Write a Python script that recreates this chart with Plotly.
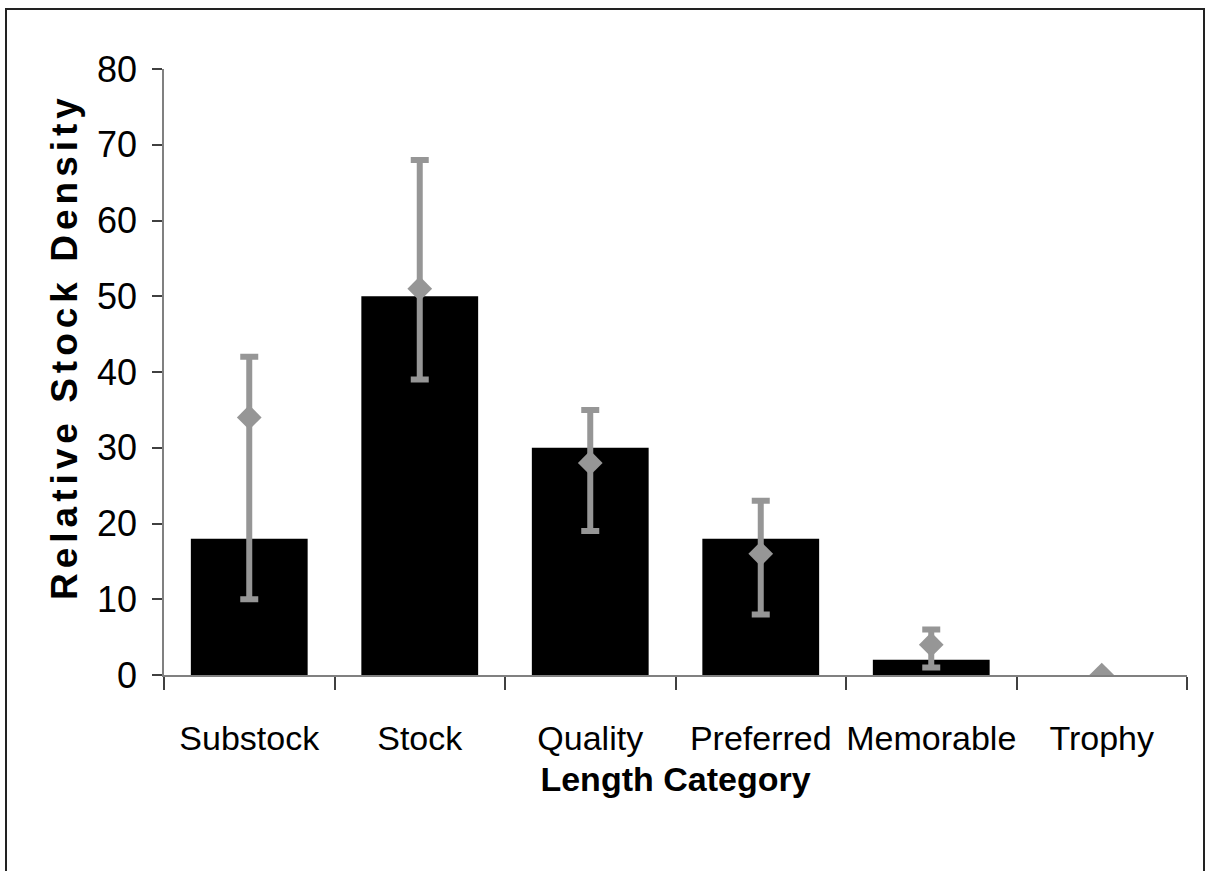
import plotly.graph_objects as go

categories = ["Substock", "Stock", "Quality", "Preferred", "Memorable", "Trophy"]
bar_values = [18, 50, 30, 18, 2, 0]
mean_values = [34, 51, 28, 16, 4, 0]
upper_values = [42, 68, 35, 23, 6, 0]
lower_values = [10, 39, 19, 8, 1, 0]
y_ticks = [0, 10, 20, 30, 40, 50, 60, 70, 80]

err_plus = [u - m for u, m in zip(upper_values, mean_values)]
err_minus = [m - l for m, l in zip(mean_values, lower_values)]

GRAY = "rgb(150,150,150)"
FONT = "Liberation Sans, Arial, sans-serif"

fig = go.Figure()
fig.add_trace(go.Bar(
    x=categories, y=bar_values,
    marker=dict(color="black", line=dict(width=0)),
    showlegend=False,
))
fig.add_trace(go.Scatter(
    x=categories, y=mean_values, mode="markers",
    marker=dict(symbol="diamond", size=19, color=GRAY),
    error_y=dict(type="data", symmetric=False, array=err_plus, arrayminus=err_minus,
                 color=GRAY, thickness=6, width=9),
    showlegend=False,
))

W0, W1 = 164, 1187
Y80, Y0 = 69, 675

def px_x(p):
    return (p - W0) / (W1 - W0)

def px_y(p):
    return (Y0 - p) / (Y0 - Y80)

fig.add_shape(type="rect", xref="paper", yref="paper",
              x0=px_x(6), x1=px_x(1204), y0=px_y(885), y1=px_y(9),
              line=dict(color="#222222", width=2), fillcolor="rgba(0,0,0,0)", layer="below")

fig.add_annotation(
    xref="paper", yref="paper", x=px_x(64), y=px_y(347),
    text="<b><span style='letter-spacing:5px'>Relative Stock Density</span></b>",
    textangle=-90, showarrow=False, xanchor="center", yanchor="middle",
    font=dict(family=FONT, size=37, color="black"),
)

fig.update_layout(
    width=1207, height=871,
    margin=dict(l=W0, r=1207 - W1, t=Y80, b=871 - Y0, autoexpand=False),
    paper_bgcolor="white", plot_bgcolor="white",
    bargap=0.315,
    font=dict(family=FONT, color="black", size=34),
    xaxis=dict(
        automargin=False, tickangle=0,
        showline=True, linecolor="#808080", linewidth=1.5,
        ticks="outside", tickson="boundaries", ticklen=13, tickcolor="#404040", tickwidth=1.5,
        tickfont=dict(family=FONT, size=34), ticklabelstandoff=32,
        title=dict(text="<b>Length Category</b>", font=dict(family=FONT, size=34), standoff=12),
        showgrid=False, zeroline=False,
    ),
    yaxis=dict(
        automargin=False,
        range=[0, 80], tickvals=y_ticks,
        showline=True, linecolor="#808080", linewidth=1.5,
        ticks="outside", ticklen=10, tickcolor="#404040", tickwidth=1.5,
        tickfont=dict(family=FONT, size=36), ticklabelstandoff=8,
        showgrid=False, zeroline=False,
    ),
)

fig.write_html("out.html")
